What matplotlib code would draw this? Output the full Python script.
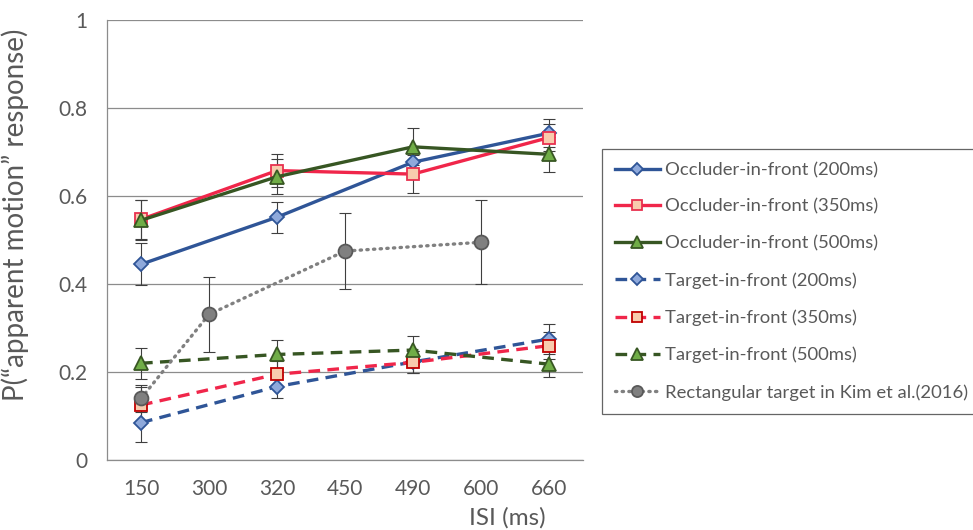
import matplotlib
matplotlib.use("Agg")
import matplotlib.pyplot as plt
import numpy as np

# ISI categories (evenly spaced on a category axis)
isi_labels = ["150", "300", "320", "450", "490", "600", "660"]
exp_idx = [0, 2, 4, 6]      # 150, 320, 490, 660
kim_idx = [0, 1, 3, 5]      # 150, 300, 450, 600

occ_200 = [0.445, 0.552, 0.677, 0.743]
occ_200_err = [0.048, 0.035, 0.035, 0.032]
occ_350 = [0.547, 0.658, 0.650, 0.733]
occ_350_err = [0.045, 0.037, 0.044, 0.030]
occ_500 = [0.545, 0.644, 0.712, 0.695]
occ_500_err = [0.045, 0.040, 0.042, 0.040]

tgt_200 = [0.085, 0.167, 0.223, 0.275]
tgt_200_err = [0.045, 0.027, 0.025, 0.035]
tgt_350 = [0.125, 0.195, 0.222, 0.260]
tgt_350_err = [0.040, 0.030, 0.025, 0.030]
tgt_500 = [0.220, 0.240, 0.250, 0.218]
tgt_500_err = [0.035, 0.032, 0.032, 0.030]

kim = [0.140, 0.331, 0.475, 0.495]
kim_err = [0.030, 0.085, 0.087, 0.095]

plt.rcParams['font.family'] = ['Lato', 'DejaVu Sans']
txt = '#595959'

fig = plt.figure(figsize=(9.73, 5.30), dpi=100)
ax = fig.add_axes([0.110, 0.132, 0.489, 0.830])

blue_line, blue_fill = '#2F5597', '#8EA9DB'
red_line, red_edge, red_fill = '#F0264A', '#C00000', '#F8CBAD'
red_edge_occ = '#E8304E'
green_line, green_fill, green_edge = '#375623', '#70AD47', '#385723'
grey_fill, grey_edge = '#808080', '#595959'

series = [
    (exp_idx, occ_200, occ_200_err, blue_line, '-', 'D', blue_fill, blue_line, 'Occluder-in-front (200ms)'),
    (exp_idx, occ_350, occ_350_err, red_line, '-', 's', red_fill, red_edge_occ, 'Occluder-in-front (350ms)'),
    (exp_idx, occ_500, occ_500_err, green_line, '-', '^', green_fill, green_edge, 'Occluder-in-front (500ms)'),
    (exp_idx, tgt_200, tgt_200_err, blue_line, '--', 'D', blue_fill, blue_line, 'Target-in-front (200ms)'),
    (exp_idx, tgt_350, tgt_350_err, red_line, '--', 's', red_fill, red_edge, 'Target-in-front (350ms)'),
    (exp_idx, tgt_500, tgt_500_err, green_line, '--', '^', green_fill, green_edge, 'Target-in-front (500ms)'),
    (kim_idx, kim, kim_err, grey_fill, ':', 'o', grey_fill, grey_edge, 'Rectangular target in Kim et al.(2016)'),
]

handles = []
for i, (xs, ys, es, lc, ls, mk, mf, me, lab) in enumerate(series):
    ax.errorbar(xs, ys, yerr=es, fmt='none', ecolor='#3F3F3F', elinewidth=0.8,
                capsize=4, capthick=0.8, zorder=2 + i * 0.1)
    ms = {'D': 7.5, 's': 9, '^': 10, 'o': 10}[mk]
    ln, = ax.plot(xs, ys, color=lc, linestyle=ls, linewidth=2.4, marker=mk,
                  markersize=ms, markerfacecolor=mf, markeredgecolor=me,
                  markeredgewidth=1.3, label=lab, zorder=3 + i * 0.1,
                  dash_capstyle='butt')
    if ls == '--':
        ln.set_dashes([3.5, 2.2])
    if ls == ':':
        ln.set_dashes([0.4, 1.6])
        ln.set_dash_capstyle('round')
        ln.set_linewidth(2.4)
    handles.append(ln)

ax.set_xlim(-0.5, 6.5)
ax.set_ylim(0, 1)
ax.set_xticks(range(len(isi_labels)))
ax.set_xticklabels(isi_labels)
ax.set_yticks([0, 0.2, 0.4, 0.6, 0.8, 1.0])
ax.set_yticklabels(['0', '0.2', '0.4', '0.6', '0.8', '1'])
ax.tick_params(length=0, labelsize=15, labelcolor=txt, pad=14)
ax.tick_params(axis='x', pad=14)
ax.yaxis.grid(True, color='#8C8C8C', linewidth=0.9)
ax.set_axisbelow(True)
for s in ['top', 'right']:
    ax.spines[s].set_visible(False)
for s in ['left', 'bottom']:
    ax.spines[s].set_color('#8C8C8C')
    ax.spines[s].set_linewidth(0.9)

ax.set_ylabel('P(\u201capparent motion\u201d response)', fontsize=20, color=txt)
ax.yaxis.set_label_coords(-0.165, 0.557)
fig.text(0.521, 0.010, 'ISI (ms)', fontsize=17.5, color=txt, ha='center')

leg = fig.legend(handles=handles, loc='upper left', bbox_to_anchor=(0.619, 0.719),
                 fontsize=13.3, frameon=True, fancybox=False, edgecolor='#3F3F3F',
                 labelcolor=txt, handlelength=2.4, handletextpad=0.3,
                 labelspacing=1.12, borderpad=0.7, borderaxespad=0,
                 markerscale=0.8)
leg.get_frame().set_linewidth(0.9)

fig.savefig('out.png', dpi=100)
